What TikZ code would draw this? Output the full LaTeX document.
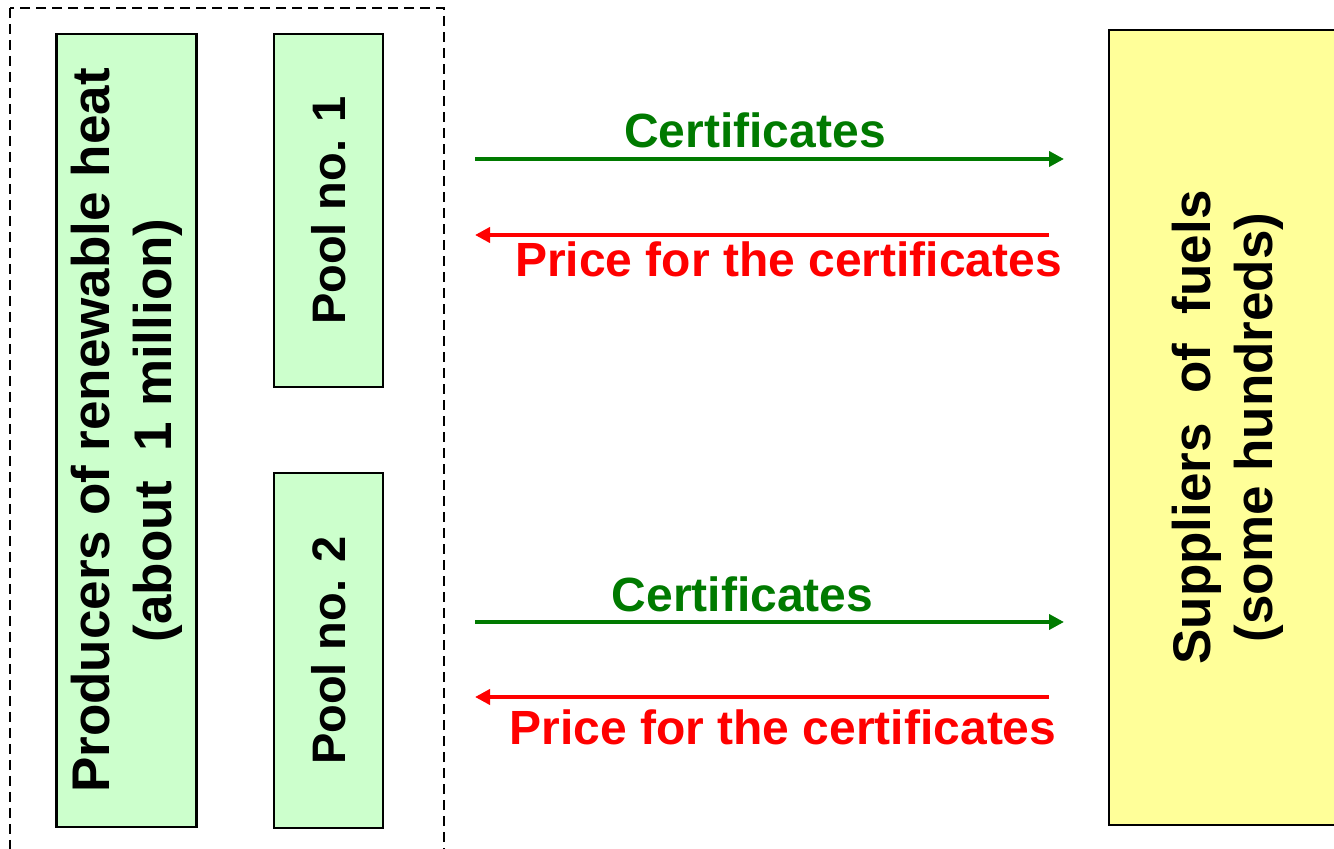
\documentclass[tikz,border=0pt]{standalone}
\usepackage{fontspec}
\setmainfont{Liberation Sans}
\usetikzlibrary{arrows.meta}
\definecolor{boxgreen}{HTML}{CCFFCC}
\definecolor{boxyellow}{HTML}{FFFF99}
\definecolor{certgreen}{HTML}{007A00}
\definecolor{pricered}{HTML}{FF0000}
\tikzset{
  greenbox/.style={draw=black, line width=1.2pt, fill=boxgreen, rotate=90, inner sep=0pt, align=center},
  yellowbox/.style={draw=black, line width=1.2pt, fill=boxyellow, rotate=90, inner sep=0pt, align=center},
  bigtext/.style={font=\fontsize{26.5pt}{31pt}\selectfont\bfseries},
  pooltext/.style={font=\fontsize{23.5pt}{28pt}\selectfont\bfseries},
  lbltext/.style={font=\fontsize{24pt}{28pt}\selectfont\bfseries, inner sep=0pt, anchor=base},
  flowarrow/.style={line width=2.2pt, -{Triangle[length=7.5pt,width=7.5pt]}},
}
\begin{document}
\begin{tikzpicture}[x=0.5pt, y=-0.5pt]
\useasboundingbox (0,0) rectangle (1334,849);
% group frame
\draw[dashed, dash pattern=on 5pt off 3pt, line width=0.75pt] (10,8) rectangle (444,880);
% boxes
\node[greenbox, bigtext, minimum width=396.5pt, minimum height=70pt] (prod) at (126.5,430.5)
  {Producers of renewable heat\\(about\ \ 1 million)};
\node[greenbox, pooltext, minimum width=176.5pt, minimum height=54.5pt] (pool1) at (328.5,210.5) {Pool no. 1};
\node[greenbox, pooltext, minimum width=177.5pt, minimum height=54.5pt] (pool2) at (328.5,650.5) {Pool no. 2};
\node[yellowbox, bigtext, minimum width=397.5pt, minimum height=119pt] (supp) at (1228,427.5)
  {Suppliers\ \ of\ \ fuels\\(some hundreds)};
% arrow end points
\coordinate (c1s) at (475,159);  \coordinate (c1e) at (1064,159);
\coordinate (p1s) at (1049,235); \coordinate (p1e) at (475,235);
\coordinate (c2s) at (475,622);  \coordinate (c2e) at (1064,622);
\coordinate (p2s) at (1049,697); \coordinate (p2e) at (475,697);
\draw[flowarrow, draw=certgreen, fill=certgreen] (c1s) -- (c1e);
\draw[flowarrow, draw=pricered, fill=pricered] (p1s) -- (p1e);
\draw[flowarrow, draw=certgreen, fill=certgreen] (c2s) -- (c2e);
\draw[flowarrow, draw=pricered, fill=pricered] (p2s) -- (p2e);
% labels
\node[lbltext, text=certgreen] (l1) at (755,148) {Certificates};
\node[lbltext, text=pricered] (l2) at (788.5,277) {Price for the certificates};
\node[lbltext, text=certgreen] (l3) at (742.5,612) {Certificates};
\node[lbltext, text=pricered] (l4) at (783,745) {Price for the certificates};
\end{tikzpicture}
\end{document}
